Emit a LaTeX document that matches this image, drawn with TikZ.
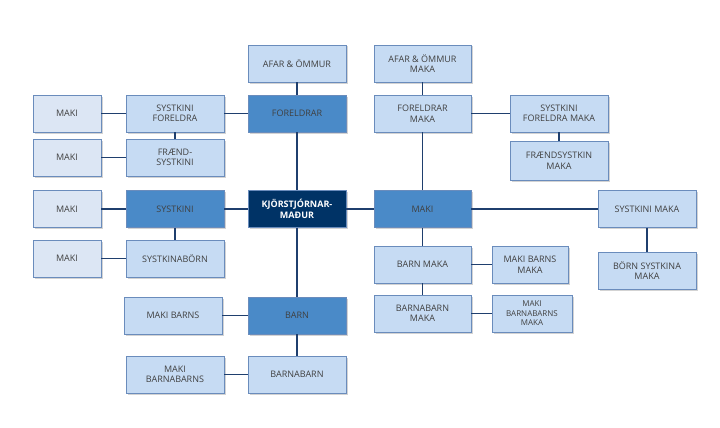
\documentclass[tikz,border=0pt]{standalone}
\usepackage{fontspec}
\setmainfont{Open Sans}
\usetikzlibrary{shadows}
\definecolor{boxpale}{HTML}{DCE6F4}
\definecolor{boxlight}{HTML}{C6DBF3}
\definecolor{boxmid}{HTML}{4A8AC8}
\definecolor{boxdark}{HTML}{003366}
\definecolor{boxedge}{HTML}{6A8CBC}
\definecolor{linkline}{HTML}{1F3F6E}
\tikzset{
  box/.style={draw=boxedge, line width=0.8pt, minimum width=98pt, minimum height=37pt,
    align=center, font=\fontsize{9}{10.5}\selectfont, text=black!75, inner sep=1pt,
    drop shadow={shadow xshift=1.5pt, shadow yshift=-1.5pt, opacity=0.35}},
  pale/.style={box, fill=boxpale, minimum width=68pt},
  light/.style={box, fill=boxlight},
  mid/.style={box, fill=boxmid},
  dark/.style={box, fill=boxdark, text=white, font=\fontsize{9}{10.5}\selectfont\bfseries},
  link/.style={draw=linkline, line width=1.2pt}
}
\begin{document}
\begin{tikzpicture}[x=1pt, y=-1pt]
  \useasboundingbox (0,0) rectangle (720,428);

  % left side
  \node[light] (afar) at (297,63.5) {AFAR \& ÖMMUR};
  \node[mid] (foreldrar) at (297,113.5) {FORELDRAR};
  \node[light] (systfor) at (175,113.5) {SYSTKINI\\FORELDRA};
  \node[pale] (makiA) at (67,113.5) {MAKI};
  \node[light] (frsyst) at (175,157.5) {FRÆND-\\SYSTKINI};
  \node[pale] (makiB) at (67,157.5) {MAKI};
  \node[mid] (systkini) at (175,209) {SYSTKINI};
  \node[pale] (makiC) at (67,209) {MAKI};
  \node[light] (systborn) at (175,258.5) {SYSTKINABÖRN};
  \node[pale] (makiD) at (67,258.5) {MAKI};
  \node[dark] (kjor) at (297,209) {KJÖRSTJÓRNAR-\\MAÐUR};
  \node[mid] (barn) at (297,315.5) {BARN};
  \node[light] (makibarns) at (173,315.5) {MAKI BARNS};
  \node[light] (barnabarn) at (297,374.5) {BARNABARN};
  \node[light] (makibb) at (175,374.5) {MAKI\\BARNABARNS};

  % right side
  \node[light, minimum width=97pt] (afarmaka) at (422.5,63.5) {AFAR \& ÖMMUR\\MAKA};
  \node[light, minimum width=97pt] (formaka) at (422.5,113.5) {FORELDRAR\\MAKA};
  \node[light] (systformaka) at (559,113.5) {SYSTKINI\\FORELDRA MAKA};
  \node[light, minimum height=39pt] (frmaka) at (559,160.5) {FRÆNDSYSTKIN\\MAKA};
  \node[mid, minimum width=97pt] (maki) at (422.5,209) {MAKI};
  \node[light] (systmaka) at (647,209) {SYSTKINI MAKA};
  \node[light] (bornmaka) at (647,270.5) {BÖRN SYSTKINA\\MAKA};
  \node[light, minimum width=97pt] (barnmaka) at (422.5,264.5) {BARN MAKA};
  \node[light, minimum width=76pt] (makibm) at (530,264.5) {MAKI BARNS\\MAKA};
  \node[light, minimum width=97pt] (bbmaka) at (422.5,313.5) {BARNABARN\\MAKA};
  \node[light, minimum width=80pt, font=\fontsize{8}{9.5}\selectfont] (makibbm) at (532,313.5) {MAKI\\BARNABARNS\\MAKA};

  % connectors
  \draw[link] (afar) -- (foreldrar);
  \draw[link] (foreldrar) -- (kjor);
  \draw[link] (kjor) -- (barn);
  \draw[link] (barn) -- (barnabarn);
  \draw[link] (foreldrar) -- (systfor);
  \draw[link] (systfor) -- (makiA);
  \draw[link] (systfor) -- (frsyst);
  \draw[link] (frsyst) -- (makiB);
  \draw[link] (kjor) -- (systkini);
  \draw[link] (systkini) -- (makiC);
  \draw[link] (systkini) -- (systborn);
  \draw[link] (systborn) -- (makiD);
  \draw[link] (barn) -- (makibarns);
  \draw[link] (barnabarn) -- (makibb);
  \draw[link] (kjor) -- (maki);
  \draw[link] (afarmaka) -- (formaka);
  \draw[link] (formaka) -- (maki);
  \draw[link] (formaka) -- (systformaka);
  \draw[link] (systformaka) -- (frmaka);
  \draw[link] (maki) -- (systmaka);
  \draw[link] (systmaka) -- (bornmaka);
  \draw[link] (maki) -- (barnmaka);
  \draw[link] (barnmaka) -- (bbmaka);
  \draw[link] (barnmaka) -- (makibm);
  \draw[link] (bbmaka) -- (makibbm);
\end{tikzpicture}
\end{document}
